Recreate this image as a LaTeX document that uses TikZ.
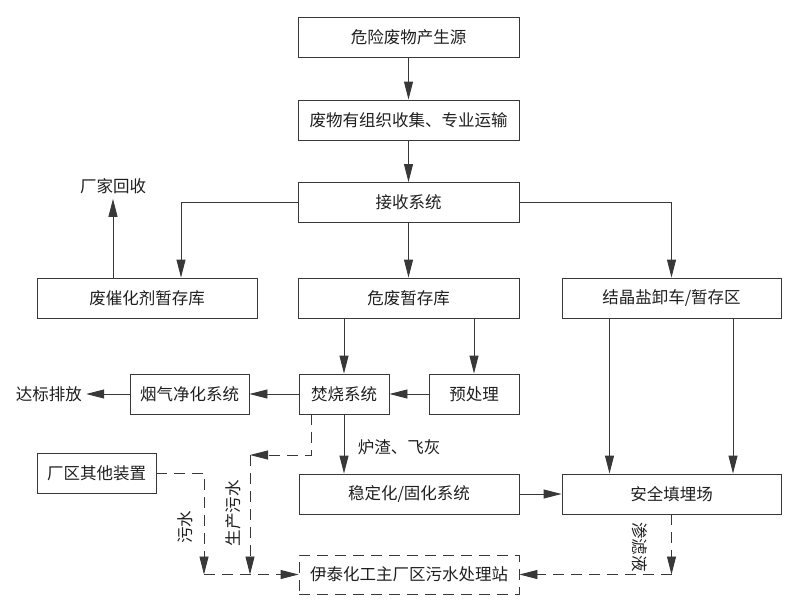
\documentclass[tikz,border=0pt]{standalone}
\usepackage{fontspec}
\setmainfont{Noto Sans CJK SC}
\usetikzlibrary{arrows.meta,calc}
\begin{document}
\begin{tikzpicture}[x=1pt,y=-1pt,
  every node/.style={font=\fontsize{16.5}{18}\selectfont, text=black!88},
  box/.style={draw=black!78, line width=0.9pt, rectangle, minimum height=40pt, inner sep=0pt},
  dbox/.style={box, dash pattern=on 11pt off 7pt},
  lbl/.style={inner sep=4pt},
  arr/.style={draw=black!78, line width=0.9pt, -{Triangle[length=18pt,width=9pt]}},
  dsh/.style={dash pattern=on 11pt off 7pt}]
\useasboundingbox (0,0) rectangle (803,608);
% boxes
\node[box, minimum width=221pt] (src) at (408.5,37.5) {危险废物产生源};
\node[box, minimum width=221pt] (col) at (408.5,120) {废物有组织收集、专业运输};
\node[box, minimum width=221pt] (recv) at (408.5,202.5) {接收系统};
\node[box, minimum width=220pt] (cat) at (147,298) {废催化剂暂存库};
\node[box, minimum width=221pt] (haz) at (408.5,298) {危废暂存库};
\node[box, minimum width=219pt] (salt) at (671.5,298) {结晶盐卸车/暂存区};
\node[box, minimum width=90pt] (inc) at (344,394) {焚烧系统};
\node[box, minimum width=90pt] (pre) at (474,394) {预处理};
\node[box, minimum width=119pt] (flue) at (189.5,394) {烟气净化系统};
\node[box, minimum width=119pt] (other) at (96.5,473) {厂区其他装置};
\node[box, minimum width=220pt] (stab) at (409,494) {稳定化/固化系统};
\node[box, minimum width=219pt] (land) at (671.5,494) {安全填埋场};
\node[dbox, minimum width=220pt, minimum height=39pt] (sew) at (409,574.5) {伊泰化工主厂区污水处理站};
% free labels
\node[lbl, inner sep=5pt] (recyc) at (113,186) {厂家回收};
\node[lbl] (emit) at (49,394) {达标排放};
\node[lbl] (slag) at (399,447) {炉渣、飞灰};
\node[lbl, rotate=90] (ww1) at (185,527) {污水};
\node[lbl, rotate=90] (ww2) at (233,513) {生产污水};
\node[lbl, rotate=-90] (leach) at (640,547) {渗滤液};
% solid connectors
\draw[arr] (src) -- (col);
\draw[arr] (col) -- (recv);
\draw[arr] (recv) -- (haz);
\draw[arr] (recv.west) -| ([xshift=34pt]cat.north);
\draw[arr] (recv.east) -| (salt.north);
\draw[arr] (recyc.south |- cat.north) -- (recyc.south);
\draw[arr] (inc.north |- haz.south) -- (inc.north);
\draw[arr] (pre.north |- haz.south) -- (pre.north);
\draw[arr] (pre.west) -- (inc.east);
\draw[arr] (inc.west) -- (flue.east);
\draw[arr] (flue.west) -- (emit.east);
\draw[arr] (inc.south) -- (inc.south |- stab.north);
\draw[arr] (stab.east) -- (land.west);
\draw[arr] ([xshift=-62pt]salt.south) -- ([xshift=-62pt]land.north);
\draw[arr] ([xshift=61.5pt]salt.south) -- ([xshift=61.5pt]land.north);
% dashed connectors
\coordinate (j1) at (250,455);
\coordinate (j2) at (250,574.5);
\coordinate (j3) at (204,574.5);
\coordinate (j4) at (671.5,574.5);
\draw[arr,dsh] ([xshift=-33pt]inc.south) |- (j1);
\draw[arr,dsh] (j1) -- (j2);
\draw[arr,dsh] (other.east) -| (j3);
\draw[arr,dsh] (j3) -- (sew.west);
\draw[arr,dsh] (land.south) -- (j4);
\draw[arr,dsh] (j4) -- (sew.east);
\end{tikzpicture}
\end{document}
